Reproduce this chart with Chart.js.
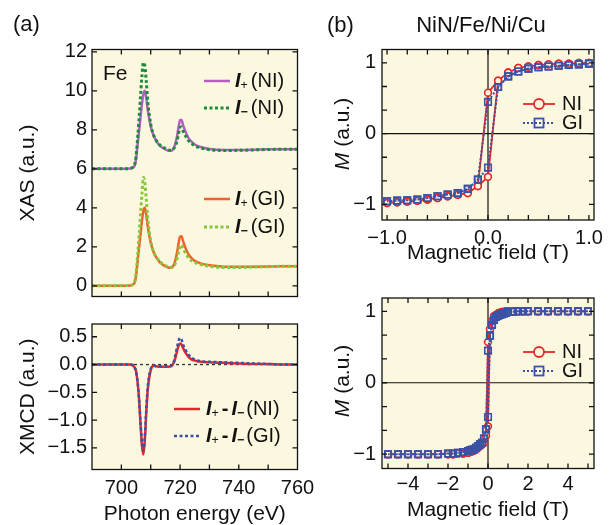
<!DOCTYPE html>
<html>
<head>
<meta charset="utf-8">
<script src="https://cdn.jsdelivr.net/npm/chart.js@4/dist/chart.umd.min.js"></script>
<style>
  html, body { margin: 0; padding: 0; background: #fff; }
  #wrap { position: relative; width: 612px; height: 525px; }
  #wrap canvas { position: absolute; left: 0; top: 0; }
</style>
</head>
<body>
<div id="wrap">
  <canvas id="xas" width="612" height="525"></canvas>
  <canvas id="xmcd" width="612" height="525"></canvas>
  <canvas id="loopNarrow" width="612" height="525"></canvas>
  <canvas id="loopWide" width="612" height="525"></canvas>
</div>
<script>
// photon energy grid (eV), shared by all spectra
const energy = [690, 695, 700, 703, 704, 704.5, 705, 705.5, 706, 706.5, 707, 707.5, 708, 708.5, 709,
  710, 711, 712, 713, 714, 715, 716, 717, 718, 718.5, 719, 719.5, 720, 720.5, 721,
  722, 723, 724, 725, 727, 730, 735, 740, 745, 750, 755, 760];

// XAS, NI spectra are offset by +6
const xasPlusNI = [6.0, 6.0, 6.0, 6.02, 6.07, 6.15, 6.5, 7.2, 7.9, 8.6, 9.3, 9.83, 10.0, 9.6, 9.0,
  8.2, 7.7, 7.4, 7.2, 7.08, 7.0, 6.93, 6.92, 7.12, 7.35, 7.7, 8.15, 8.5, 8.5, 8.25,
  7.85, 7.55, 7.38, 7.25, 7.12, 7.02, 6.97, 6.97, 6.98, 7.0, 7.0, 7.0];
const xasMinusNI = [6.0, 6.0, 6.0, 6.02, 6.09, 6.2, 6.62, 7.5, 8.5, 9.65, 10.75, 11.45, 11.3, 10.45, 9.45,
  8.3, 7.72, 7.43, 7.24, 7.12, 7.04, 6.97, 6.95, 7.07, 7.21, 7.45, 7.81, 8.12, 8.14, 7.95,
  7.65, 7.42, 7.29, 7.18, 7.07, 6.98, 6.94, 6.95, 6.97, 6.99, 7.0, 7.0];
const xasPlusGI = [0, 0, 0, 0.02, 0.07, 0.15, 0.5, 1.2, 1.9, 2.6, 3.3, 3.85, 4.0, 3.62, 3.02,
  2.22, 1.72, 1.43, 1.23, 1.09, 1.0, 0.94, 0.93, 1.12, 1.38, 1.73, 2.18, 2.52, 2.54, 2.3,
  1.88, 1.58, 1.4, 1.28, 1.15, 1.05, 0.98, 0.97, 0.98, 0.99, 1.0, 1.0];
const xasMinusGI = [0, 0, 0, 0.02, 0.08, 0.2, 0.62, 1.5, 2.5, 3.6, 4.7, 5.55, 5.3, 4.42, 3.42,
  2.3, 1.74, 1.46, 1.26, 1.12, 1.03, 0.97, 0.95, 1.05, 1.18, 1.41, 1.75, 2.04, 2.09, 1.94,
  1.63, 1.41, 1.28, 1.19, 1.09, 1.0, 0.94, 0.94, 0.96, 0.98, 1.0, 1.0];

// XMCD = I+ - I-
const xmcdNI = [0, 0, 0, 0, -0.02, -0.05, -0.12, -0.3, -0.6, -1.05, -1.45, -1.62, -1.35, -0.85, -0.45,
  -0.1, -0.02, -0.03, -0.04, -0.04, -0.04, -0.04, -0.03, 0.05, 0.14, 0.25, 0.34, 0.38, 0.36, 0.3,
  0.2, 0.13, 0.09, 0.07, 0.05, 0.04, 0.03, 0.02, 0.01, 0.01, 0, 0];
const xmcdGI = [0, 0, 0, 0, -0.01, -0.05, -0.12, -0.3, -0.6, -1.0, -1.4, -1.55, -1.3, -0.8, -0.4,
  -0.08, -0.02, -0.03, -0.03, -0.03, -0.03, -0.03, -0.02, 0.07, 0.2, 0.32, 0.43, 0.48, 0.45, 0.36,
  0.25, 0.17, 0.12, 0.09, 0.06, 0.05, 0.04, 0.03, 0.02, 0.01, 0, 0];

// hysteresis, +-1 T sweep (values listed from +1 T down to -1 T for both branches)
const fieldNarrow = [1.0, 0.9, 0.8, 0.7, 0.6, 0.5, 0.4, 0.3, 0.2, 0.1, 0.0, -0.1, -0.2, -0.3, -0.4, -0.5, -0.6, -0.7, -0.8, -0.9, -1.0];
const niNarrowDown = [1.0, 1.0, 0.99, 0.99, 0.98, 0.97, 0.95, 0.93, 0.865, 0.75, 0.58, -0.74, -0.84, -0.865, -0.885, -0.91, -0.93, -0.95, -0.96, -0.97, -0.98];
const niNarrowUp = [1.0, 1.0, 0.99, 0.99, 0.98, 0.97, 0.95, 0.93, 0.865, 0.75, -0.61, -0.74, -0.84, -0.865, -0.885, -0.91, -0.93, -0.95, -0.96, -0.97, -0.98];
const giNarrowDown = [0.99, 0.98, 0.97, 0.96, 0.95, 0.94, 0.92, 0.88, 0.81, 0.66, 0.45, -0.65, -0.78, -0.84, -0.86, -0.885, -0.91, -0.93, -0.94, -0.946, -0.955];
const giNarrowUp = [0.99, 0.98, 0.97, 0.96, 0.95, 0.94, 0.92, 0.88, 0.81, 0.66, -0.48, -0.65, -0.78, -0.84, -0.86, -0.885, -0.91, -0.93, -0.94, -0.946, -0.955];

// hysteresis, +-5 T sweep
const fieldWide = [5, 4.5, 4, 3.5, 3, 2.5, 2, 1.75, 1.5, 1.25, 1, 0.9, 0.8, 0.7, 0.6, 0.5, 0.4, 0.3, 0.2, 0.1, 0,
  -0.1, -0.2, -0.3, -0.4, -0.5, -0.6, -0.7, -0.8, -0.9, -1, -1.25, -1.5, -1.75, -2, -2.5, -3, -3.5, -4, -4.5, -5];
const niWideDown = [1, 1, 1, 1, 1, 1, 1, 1, 1, 1, 1, 1, 0.99, 0.99, 0.98, 0.97, 0.95, 0.93, 0.865, 0.75, 0.57,
  -0.74, -0.84, -0.865, -0.885, -0.91, -0.93, -0.95, -0.96, -0.97, -0.98, -0.99, -0.99, -1, -1, -1, -1, -1, -1, -1, -1];
const niWideUp = [1, 1, 1, 1, 1, 1, 1, 1, 1, 1, 1, 1, 0.99, 0.99, 0.98, 0.97, 0.95, 0.93, 0.865, 0.75, -0.61,
  -0.74, -0.84, -0.865, -0.885, -0.91, -0.93, -0.95, -0.96, -0.97, -0.98, -0.99, -0.99, -1, -1, -1, -1, -1, -1, -1, -1];
const giWideDown = [1, 1, 1, 1, 1, 1, 1, 1, 1, 0.995, 0.99, 0.98, 0.97, 0.96, 0.95, 0.94, 0.92, 0.88, 0.81, 0.66, 0.45,
  -0.65, -0.78, -0.84, -0.86, -0.885, -0.91, -0.93, -0.94, -0.946, -0.955, -0.97, -0.98, -0.99, -0.99, -1, -1, -1, -1, -1, -1];
const giWideUp = [1, 1, 1, 1, 1, 1, 1, 1, 1, 0.995, 0.99, 0.98, 0.97, 0.96, 0.95, 0.94, 0.92, 0.88, 0.81, 0.66, -0.48,
  -0.65, -0.78, -0.84, -0.86, -0.885, -0.91, -0.93, -0.94, -0.946, -0.955, -0.97, -0.98, -0.99, -0.99, -1, -1, -1, -1, -1, -1];

// ticks and their labels ('' = tick mark only)
const energyTicks = [690, 700, 710, 720, 730, 740, 750, 760];
const energyLabels = ['', '700', '', '720', '', '740', '', '760'];
const xasTicks = [0, 2, 4, 6, 8, 10, 12];
const xasLabels = ['0', '2', '4', '6', '8', '10', '12'];
const xmcdTicks = [-1.5, -1.0, -0.5, 0, 0.5];
const xmcdLabels = ['\u22121.5', '\u22121.0', '\u22120.5', '0.0', '0.5'];
const mTicks = [-1, -0.6667, -0.3333, 0, 0.3333, 0.6667, 1];
const mLabels = ['\u22121', '', '', '0', '', '', '1'];
const narrowTicks = [-1, -0.8, -0.6, -0.4, -0.2, 0, 0.2, 0.4, 0.6, 0.8, 1];
const narrowLabels = ['\u22121.0', '', '', '', '', '0.0', '', '', '', '', '1.0'];
const wideTicks = [-5, -4, -3, -2, -1, 0, 1, 2, 3, 4, 5];
const wideLabels = ['', '\u22124', '', '\u22122', '', '0', '', '2', '', '4', ''];

const BG = '#fcf8e0';
const INK = '#111111';
const SANS = "'Liberation Sans', Arial, Helvetica, sans-serif";

const C = {
  plusNI: '#b45fc1', minusNI: '#1c8c3c', plusGI: '#f0622c', minusGI: '#86c83a',
  red: '#e8262a', blue: '#3a52a6'
};

const xy = (xs, ys) => xs.map((x, i) => ({ x: x, y: ys[i] }));
function loopPoints(fields, down, up) {
  const pts = xy(fields, down);
  for (let i = fields.length - 1; i >= 0; i--) pts.push({ x: fields[i], y: up[i] });
  return pts;
}

// ---- text helpers (italic / subscript runs) ----
function runFont(r, size) {
  const s = r.sub ? size * 0.62 : size;
  return (r.italic ? 'italic ' : '') + (r.bold ? 'bold ' : '') + s + 'px ' + SANS;
}
function runsWidth(ctx, runs, size) {
  let w = 0;
  runs.forEach(r => {
    if (r.gap) { w += r.gap; return; }
    ctx.font = runFont(r, size);
    w += ctx.measureText(r.t).width;
  });
  return w;
}
function drawRuns(ctx, x, y, runs, size) {
  let cx = x;
  runs.forEach(r => {
    if (r.gap) { cx += r.gap; return; }
    ctx.font = runFont(r, size);
    ctx.fillText(r.t, cx, y + (r.sub ? size * 0.25 : 0));
    cx += ctx.measureText(r.t).width;
  });
}
function drawSample(ctx, s, y) {
  ctx.save();
  ctx.strokeStyle = s.color;
  ctx.lineWidth = s.width;
  ctx.setLineDash(s.dash || []);
  ctx.beginPath(); ctx.moveTo(s.x1, y); ctx.lineTo(s.x2, y); ctx.stroke();
  ctx.setLineDash([]);
  const cx = (s.x1 + s.x2) / 2;
  ctx.lineWidth = 1.8;
  if (s.marker === 'circle') {
    ctx.beginPath(); ctx.arc(cx, y, 5, 0, 2 * Math.PI);
    ctx.fillStyle = BG; ctx.fill(); ctx.stroke();
  } else if (s.marker === 'rect') {
    ctx.strokeRect(cx - 4.5, y - 4.5, 9, 9);
  }
  ctx.restore();
}

const notesPlugin = {
  id: 'notes',
  afterDraw(chart, args, opts) {
    const ctx = chart.ctx;
    (opts.items || []).forEach(it => {
      const size = it.size || 20;
      ctx.save();
      ctx.fillStyle = INK;
      ctx.textBaseline = 'middle';
      ctx.textAlign = 'left';
      if (it.sample) drawSample(ctx, it.sample, it.y);
      if (it.rotate) {
        ctx.translate(it.x, it.y);
        ctx.rotate(-Math.PI / 2);
        drawRuns(ctx, -runsWidth(ctx, it.runs, size) / 2, 0, it.runs, size);
      } else {
        const x0 = it.center ? it.x - runsWidth(ctx, it.runs, size) / 2 : it.x;
        drawRuns(ctx, x0, it.y, it.runs, size);
      }
      ctx.restore();
    });
  }
};

// plot background, zero lines, box frame and inward ticks on all four sides
const framePlugin = {
  id: 'frame',
  beforeDraw(chart) {
    const a = chart.chartArea, ctx = chart.ctx;
    ctx.save();
    ctx.fillStyle = BG;
    ctx.fillRect(a.left, a.top, a.width, a.height);
    ctx.restore();
  },
  beforeDatasetsDraw(chart, args, opts) {
    const a = chart.chartArea, ctx = chart.ctx;
    const px = chart.scales.x.getPixelForValue(0);
    const py = chart.scales.y.getPixelForValue(0);
    ctx.save();
    if (opts.cross) {
      ctx.strokeStyle = INK; ctx.lineWidth = 1.2;
      ctx.beginPath();
      ctx.moveTo(px, a.top); ctx.lineTo(px, a.bottom);
      ctx.moveTo(a.left, py); ctx.lineTo(a.right, py);
      ctx.stroke();
    }
    if (opts.zeroDash) {
      ctx.strokeStyle = '#333'; ctx.lineWidth = 1.3; ctx.setLineDash([3, 3]);
      ctx.beginPath(); ctx.moveTo(a.left, py); ctx.lineTo(a.right, py); ctx.stroke();
    }
    ctx.restore();
  },
  afterDatasetsDraw(chart) {
    const a = chart.chartArea, ctx = chart.ctx, xs = chart.scales.x, ys = chart.scales.y, L = 5;
    ctx.save();
    ctx.strokeStyle = INK; ctx.lineWidth = 1.3;
    ctx.strokeRect(a.left, a.top, a.width, a.height);
    ctx.beginPath();
    xs.ticks.forEach(t => {
      const p = xs.getPixelForValue(t.value);
      if (p < a.left + 1 || p > a.right - 1) return;
      ctx.moveTo(p, a.bottom); ctx.lineTo(p, a.bottom - L);
      ctx.moveTo(p, a.top); ctx.lineTo(p, a.top + L);
    });
    ys.ticks.forEach(t => {
      const p = ys.getPixelForValue(t.value);
      if (p < a.top + 1 || p > a.bottom - 1) return;
      ctx.moveTo(a.left, p); ctx.lineTo(a.left + L, p);
      ctx.moveTo(a.right, p); ctx.lineTo(a.right - L, p);
    });
    ctx.stroke();
    ctx.restore();
  }
};

function axis(o) {
  return {
    type: 'linear', position: o.position, min: o.min, max: o.max,
    grid: { display: false, drawTicks: false },
    border: { display: false },
    afterBuildTicks: s => { s.ticks = o.ticks.map(v => ({ value: v })); },
    afterFit: s => { if (o.position === 'left') s.width = o.size; else s.height = o.size; },
    ticks: {
      display: !!o.labels, autoSkip: false, maxRotation: 0, padding: o.pad || 0, color: INK,
      font: { family: SANS, size: 20, lineHeight: 1 },
      callback: (v, i) => (o.labels ? o.labels[i] : '')
    },
    title: o.title
      ? { display: true, text: o.title, color: INK, font: { family: SANS, size: 21, lineHeight: 1 }, padding: o.titlePad }
      : { display: false }
  };
}

function line(data, color, width, dash, order) {
  return { data: data, borderColor: color, borderWidth: width, borderDash: dash || [], showLine: true,
    pointRadius: 0, cubicInterpolationMode: 'monotone', order: order };
}

function baseOptions(padding, scales, plugins) {
  return {
    responsive: false, animation: false, events: [],
    layout: { padding: padding },
    scales: scales,
    plugins: Object.assign({ legend: { display: false }, tooltip: { enabled: false } }, plugins)
  };
}

const I = { t: 'I', italic: true, bold: true };
const plus = { t: '+', sub: true };
const minus = { t: '\u2212', sub: true, bold: true };

// (a) top: XAS
new Chart(document.getElementById('xas'), {
  type: 'scatter',
  plugins: [framePlugin, notesPlugin],
  data: { datasets: [
    line(xy(energy, xasPlusGI), C.plusGI, 2.5, null, 2),
    line(xy(energy, xasMinusGI), C.minusGI, 3, [3, 2.5], 1),
    line(xy(energy, xasPlusNI), C.plusNI, 2.5, null, 2),
    line(xy(energy, xasMinusNI), C.minusNI, 3, [3, 2.5], 1)
  ] },
  options: baseOptions({ left: 0, top: 49.5, right: 314.5, bottom: 228.5 }, {
    x: axis({ position: 'bottom', min: 690, max: 760, ticks: energyTicks, labels: null, size: 0 }),
    y: axis({ position: 'left', min: -0.55, max: 12.12, ticks: xasTicks, labels: xasLabels, size: 92, pad: 5,
      title: 'XAS (a.u.)', titlePad: { top: 17.5, bottom: 0 } })
  }, {
    frame: {},
    notes: { items: [
      { x: 13, y: 25, size: 22, runs: [{ t: '(a)' }] },
      { x: 103, y: 74, size: 21, runs: [{ t: 'Fe' }] },
      { x: 235, y: 81, runs: [I, plus, { gap: 3 }, { t: '(NI)' }], sample: { x1: 204, x2: 230, color: C.plusNI, width: 2.5 } },
      { x: 235, y: 108, runs: [I, minus, { gap: 3 }, { t: '(NI)' }], sample: { x1: 204, x2: 230, color: C.minusNI, width: 3, dash: [3, 2.5] } },
      { x: 235, y: 199, runs: [I, plus, { gap: 3 }, { t: '(GI)' }], sample: { x1: 204, x2: 230, color: C.plusGI, width: 2.5 } },
      { x: 235, y: 227, runs: [I, minus, { gap: 3 }, { t: '(GI)' }], sample: { x1: 204, x2: 230, color: C.minusGI, width: 3, dash: [3, 2.5] } }
    ] }
  })
});

// (a) bottom: XMCD
new Chart(document.getElementById('xmcd'), {
  type: 'scatter',
  plugins: [framePlugin, notesPlugin],
  data: { datasets: [
    line(xy(energy, xmcdNI), C.red, 2.5, null, 2),
    line(xy(energy, xmcdGI), C.blue, 2.5, [3, 2.5], 1)
  ] },
  options: baseOptions({ left: 0, top: 324, right: 314.5, bottom: 0.5 }, {
    x: axis({ position: 'bottom', min: 690, max: 760, ticks: energyTicks, labels: energyLabels, size: 55, pad: 9,
      title: 'Photon energy (eV)', titlePad: { top: 0, bottom: 0 } }),
    y: axis({ position: 'left', min: -1.89, max: 0.73, ticks: xmcdTicks, labels: xmcdLabels, size: 92, pad: 5,
      title: 'XMCD (a.u.)', titlePad: { top: 17.5, bottom: 0 } })
  }, {
    frame: { zeroDash: true },
    notes: { items: [
      { x: 206, y: 409, runs: [I, plus, { gap: 3 }, { t: '-', bold: true }, { gap: 3 }, I, minus, { gap: 2 }, { t: '(NI)' }],
        sample: { x1: 174, x2: 200, color: C.red, width: 2.5 } },
      { x: 206, y: 436, runs: [I, plus, { gap: 3 }, { t: '-', bold: true }, { gap: 3 }, I, minus, { gap: 2 }, { t: '(GI)' }],
        sample: { x1: 174, x2: 200, color: C.blue, width: 2.5, dash: [3, 2.5] } }
    ] }
  })
});

function loopSets(niDown, niUp, giDown, giUp, fields) {
  return [
    { data: loopPoints(fields, niDown, niUp), showLine: true, borderColor: C.red, borderWidth: 1.8,
      pointStyle: 'circle', pointRadius: 3.4, pointBorderWidth: 1.6, pointBorderColor: C.red,
      pointBackgroundColor: BG, order: 2 },
    { data: loopPoints(fields, giDown, giUp), showLine: true, borderColor: C.blue, borderWidth: 2, borderDash: [2, 2],
      pointStyle: 'rect', pointRadius: 4.6, pointBorderWidth: 1.6, pointBorderColor: C.blue,
      pointBackgroundColor: 'rgba(0,0,0,0)', order: 1 }
  ];
}

const mTitle = [{ t: 'M', italic: true }, { t: ' (a.u.)' }];

// (b) top: +-1 T loop
new Chart(document.getElementById('loopNarrow'), {
  type: 'scatter',
  plugins: [framePlugin, notesPlugin],
  data: { datasets: loopSets(niNarrowDown, niNarrowUp, giNarrowDown, giNarrowUp, fieldNarrow) },
  options: baseOptions({ left: 310, top: 49.5, right: 18, bottom: 261.5 }, {
    x: axis({ position: 'bottom', min: -1.05, max: 1.05, ticks: narrowTicks, labels: narrowLabels, size: 43.5, pad: 8,
      title: 'Magnetic field (T)', titlePad: { top: 0, bottom: 0 } }),
    y: axis({ position: 'left', min: -1.22, max: 1.19, ticks: mTicks, labels: mLabels, size: 72, pad: 6 })
  }, {
    frame: { cross: true },
    notes: { items: [
      { x: 327, y: 26, size: 22, runs: [{ t: '(b)' }] },
      { x: 481, y: 26, size: 22, center: true, runs: [{ t: 'NiN/Fe/Ni/Cu' }] },
      { x: 343, y: 134, size: 21, rotate: true, runs: mTitle },
      { x: 562, y: 104, runs: [{ t: 'NI' }], sample: { x1: 523, x2: 555, color: C.red, width: 1.8, marker: 'circle' } },
      { x: 562, y: 123, runs: [{ t: 'GI' }], sample: { x1: 523, x2: 555, color: C.blue, width: 2, dash: [2, 2], marker: 'rect' } }
    ] }
  })
});

// (b) bottom: +-5 T loop
new Chart(document.getElementById('loopWide'), {
  type: 'scatter',
  plugins: [framePlugin, notesPlugin],
  data: { datasets: loopSets(niWideDown, niWideUp, giWideDown, giWideUp, fieldWide) },
  options: baseOptions({ left: 310, top: 298, right: 18, bottom: 4.5 }, {
    x: axis({ position: 'bottom', min: -5.3, max: 5.3, ticks: wideTicks, labels: wideLabels, size: 52, pad: 6,
      title: 'Magnetic field (T)', titlePad: { top: 0, bottom: 0 } }),
    y: axis({ position: 'left', min: -1.2, max: 1.186, ticks: mTicks, labels: mLabels, size: 72, pad: 6 })
  }, {
    frame: { cross: true },
    notes: { items: [
      { x: 343, y: 381, size: 21, rotate: true, runs: mTitle },
      { x: 562, y: 352, runs: [{ t: 'NI' }], sample: { x1: 523, x2: 555, color: C.red, width: 1.8, marker: 'circle' } },
      { x: 562, y: 371, runs: [{ t: 'GI' }], sample: { x1: 523, x2: 555, color: C.blue, width: 2, dash: [2, 2], marker: 'rect' } }
    ] }
  })
});
</script>
</body>
</html>
